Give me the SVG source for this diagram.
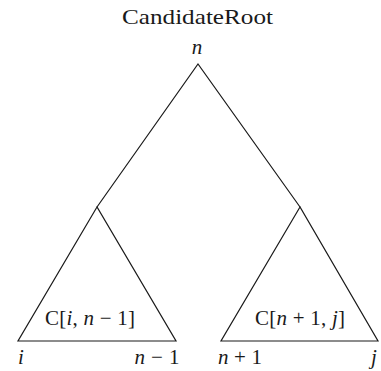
<svg xmlns="http://www.w3.org/2000/svg" width="381" height="371" viewBox="0 0 381 371">
<style>
text{font-family:"Liberation Serif","DejaVu Serif",serif;font-size:21px;fill:#1a1a1a}
.i{font-style:italic}
line,polyline,polygon{stroke:#1a1a1a;stroke-width:1.2;fill:none}
</style>
<rect width="381" height="371" fill="#fff"/>
<text x="197.5" y="24" text-anchor="middle" textLength="151" lengthAdjust="spacingAndGlyphs">CandidateRoot</text>
<g id="root">
<text x="197" y="54" text-anchor="middle" class="i">n</text>
</g>
<g id="connectors">
<polyline points="97,207 198,64 300,207"/>
</g>
<g id="left">
<polygon points="97,207 18,341 176,341"/>
<text x="90" y="325" text-anchor="middle" textLength="90" lengthAdjust="spacing">C[<tspan class="i">i</tspan>, <tspan class="i">n</tspan> − 1]</text>
<text x="21" y="364" text-anchor="middle" class="i">i</text>
<text x="157" y="364" text-anchor="middle" textLength="45" lengthAdjust="spacing"><tspan class="i">n</tspan> − 1</text>
</g>
<g id="right">
<polygon points="300,207 221,341 378,341"/>
<text x="300" y="325" text-anchor="middle" textLength="90" lengthAdjust="spacing">C[<tspan class="i">n</tspan> + 1, <tspan class="i">j</tspan>]</text>
<text x="240" y="364" text-anchor="middle" textLength="44" lengthAdjust="spacing"><tspan class="i">n</tspan> + 1</text>
<text x="374" y="364" text-anchor="middle" class="i">j</text>
</g>
</svg>
